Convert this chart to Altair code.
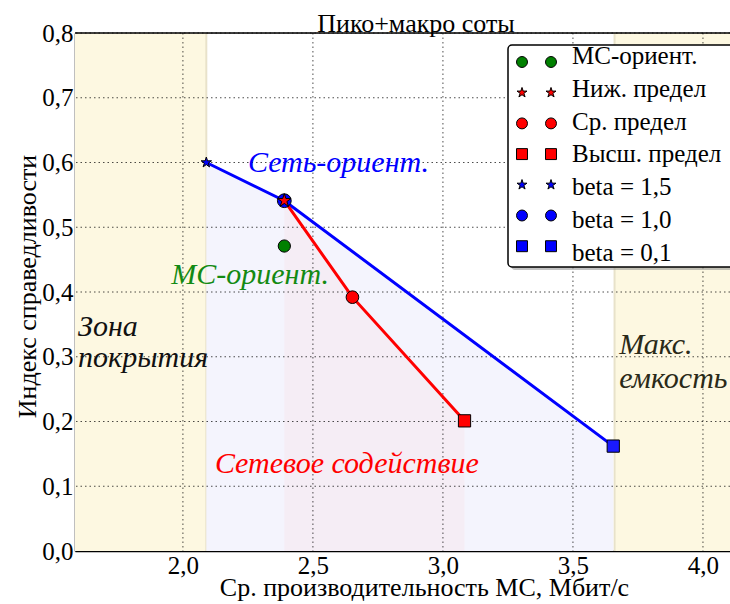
import altair as alt
import pandas as pd

# Fairness index vs mean UE throughput, pico + macro cells
x_ticks = [2.0, 2.5, 3.0, 3.5, 4.0]
y_ticks = [0.0, 0.1, 0.2, 0.3, 0.4, 0.5, 0.6, 0.7, 0.8]

# network-oriented curve (beta = 1.5, 1.0, 0.1)
blue_x = [2.09, 2.39, 3.655]
blue_y = [0.600, 0.541, 0.162]

# network assistance curve (lower / mid / upper bound)
red_x = [2.39, 2.652, 3.083]
red_y = [0.541, 0.392, 0.201]

# UE-oriented point
ms_x = [2.39]
ms_y = [0.471]

# zone borders on the throughput axis
coverage_edge = 2.09
capacity_edge = 3.66

X_DOM = [1.585, 4.104]
Y_DOM = [0.0, 0.8]
W, H = 655, 518
FONT = "Liberation Serif"

# five-pointed star in the unit box used by Vega custom symbols
STAR = ("M0,-1 L0.2245,-0.309 L0.951,-0.309 L0.363,0.118 L0.588,0.809 L0,0.382 "
        "L-0.588,0.809 L-0.363,0.118 L-0.951,-0.309 L-0.2245,-0.309 Z")

xs = alt.Scale(domain=X_DOM, nice=False, zero=False)
ys = alt.Scale(domain=Y_DOM, nice=False, zero=False)

blue_df = pd.DataFrame({"x": blue_x, "y": blue_y})
red_df = pd.DataFrame({"x": red_x, "y": red_y})
ms_df = pd.DataFrame({"x": ms_x, "y": ms_y})
one = pd.DataFrame({"k": [0]})

label_expr = "replace(format(datum.value, '.1f'), '.', ',')"

x_axis = alt.Axis(values=x_ticks, labelExpr=label_expr, grid=False, ticks=False,
                  labelFont=FONT, labelFontSize=25, labelColor="black", labelPadding=2,
                  domainColor="black", domainWidth=1.5,
                  title="Ср. производительность МС, Мбит/с", titleFont=FONT,
                  titleFontSize=26, titleFontWeight="normal", titleColor="black",
                  titleBaseline="top", titleY=23, titleX=349)
y_axis = alt.Axis(values=y_ticks, labelExpr=label_expr, grid=False, ticks=False,
                  labelFont=FONT, labelFontSize=25, labelColor="black", labelPadding=2,
                  domainColor="black", domainWidth=1.5,
                  title="Индекс справедливости", titleFont=FONT,
                  titleFontSize=26, titleFontWeight="normal", titleColor="black",
                  titleBaseline="alphabetic", titleX=-40, titleY=253)

# shaded zones
zones = pd.DataFrame({"x0": [X_DOM[0], capacity_edge], "x1": [coverage_edge, X_DOM[1]]})
zone_rect = alt.Chart(zones).mark_rect(color="#fdf8e1").encode(
    x=alt.X("x0:Q", scale=xs, axis=x_axis), x2="x1:Q",
    y=alt.datum(Y_DOM[0], scale=ys, axis=y_axis), y2=alt.datum(Y_DOM[1]))
zone_edges = alt.Chart(pd.DataFrame({"x": [coverage_edge, capacity_edge]})).mark_rule(
    color="#e8e2ca", strokeWidth=2).encode(x="x:Q")

blue_area = alt.Chart(blue_df).mark_area(color="#f4f4fd", opacity=1).encode(
    x="x:Q", y="y:Q", y2=alt.datum(0))
red_area = alt.Chart(red_df).mark_area(color="#f5edf5", opacity=1).encode(
    x="x:Q", y="y:Q", y2=alt.datum(0))

grid_style = dict(color="black", strokeDash=[1.5, 3], strokeWidth=1, opacity=0.7)
grid_v = alt.Chart(pd.DataFrame({"x": x_ticks})).mark_rule(**grid_style).encode(x="x:Q")
grid_h = alt.Chart(pd.DataFrame({"y": y_ticks[1:]})).mark_rule(**grid_style).encode(y="y:Q")

top_border = alt.Chart(one).mark_rule(color="black", strokeWidth=1.5).encode(
    x=alt.value(0), x2=alt.value(W), y=alt.value(0))

blue_line = alt.Chart(blue_df).mark_line(color="#0000ff", strokeWidth=3).encode(x="x:Q", y="y:Q")
red_line = alt.Chart(red_df).mark_line(color="#ff0000", strokeWidth=3).encode(x="x:Q", y="y:Q")


def pts(df, shape, color, size, rows=None):
    d = df if rows is None else df.iloc[rows]
    return alt.Chart(d).mark_point(shape=shape, filled=True, fill=color, stroke="black",
                                   strokeWidth=1, size=size, opacity=1).encode(x="x:Q", y="y:Q")


marks = [
    pts(blue_df, STAR, "#0000ff", 120, [0]),
    pts(blue_df, "circle", "#0000ff", 190, [1]),
    pts(blue_df, "square", "#1a1aff", 150, [2]),
    pts(ms_df, "circle", "#008000", 150),
    pts(red_df, STAR, "#ff0000", 200, [0]),
    pts(red_df, "circle", "#ff0000", 160, [1]),
    pts(red_df, "square", "#ff0000", 150, [2]),
]


def note(text, x, y, color, size=30):
    return alt.Chart(one).mark_text(text=text, font=FONT, fontStyle="italic", fontSize=size,
                                    color=color, align="left", baseline="middle").encode(
        x=alt.datum(x), y=alt.datum(y))


notes = [
    note("Сеть-ориент.", 2.25, 0.600, "#0000ff"),
    note("МС-ориент.", 1.955, 0.426, "#138a13"),
    note("Зона", 1.597, 0.346, "#111111"),
    note("покрытия", 1.597, 0.298, "#111111"),
    note("Макс.", 3.678, 0.318, "#2a2a18"),
    note("емкость", 3.678, 0.266, "#2a2a18"),
    note("Сетевое содействие", 2.123, 0.134, "#ff0000"),
]

title = alt.Chart(one).mark_text(text="Пико+макро соты", font=FONT, fontSize=26,
                                 color="black", align="center", baseline="alphabetic").encode(
    x=alt.value(341), y=alt.value(-1))

# legend box with two sample markers per entry
legend_entries = [
    ("МС-ориент.", "#008000", "circle", 120),
    ("Ниж. предел", "#ff0000", STAR, 110),
    ("Ср. предел", "#ff0000", "circle", 120),
    ("Высш. предел", "#ff0000", "square", 120),
    ("beta = 1,5", "#0000ff", STAR, 110),
    ("beta = 1,0", "#0000ff", "circle", 120),
    ("beta = 0,1", "#0000ff", "square", 120),
]
legend_layers = [
    alt.Chart(one).mark_rect(fill="#888888", opacity=0.5, cornerRadius=4).encode(
        x=alt.value(436), x2=alt.value(W + 20), y=alt.value(15), y2=alt.value(237)),
    alt.Chart(one).mark_rect(fill="white", stroke="black", strokeWidth=1.5, cornerRadius=4).encode(
        x=alt.value(433), x2=alt.value(W + 20), y=alt.value(12), y2=alt.value(234)),
]
for i, (label, color, shape, size) in enumerate(legend_entries):
    my = 29 + i * 30.7
    for mx in (447, 476):
        legend_layers.append(
            alt.Chart(one).mark_point(shape=shape, filled=True, fill=color, stroke="black",
                                      strokeWidth=1, size=size, opacity=1).encode(
                x=alt.value(mx), y=alt.value(my)))
    legend_layers.append(
        alt.Chart(one).mark_text(text=label, font=FONT, fontSize=25, color="black",
                                 align="left", baseline="middle").encode(
            x=alt.value(497), y=alt.value(23 + i * 32.8)))

chart = alt.layer(
    zone_rect, zone_edges, blue_area, red_area, grid_v, grid_h,
    blue_line, red_line, *marks, *notes, top_border, title, *legend_layers,
).properties(
    width=W, height=H,
    autosize=alt.AutoSizeParams(type="none"),
    padding={"left": 75, "top": 33, "right": 0, "bottom": 53},
).configure_view(stroke=None).configure(background="white")

chart.save("out.html", embed_options={"renderer": "svg", "actions": False})
